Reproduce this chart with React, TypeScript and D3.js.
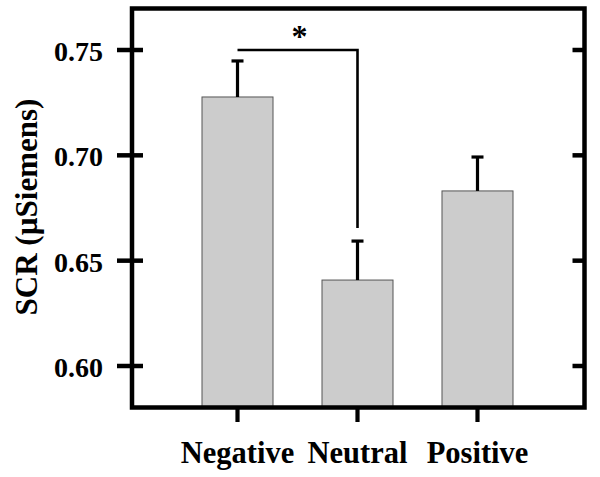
import React from "react";
import * as d3 from "d3";

const categories = ["Negative", "Neutral", "Positive"];
const means = [0.7277, 0.6408, 0.6831];
const errors = [0.0171, 0.0185, 0.0161];
const yTicks = [0.6, 0.65, 0.7, 0.75];
const yTickLabels = ["0.60", "0.65", "0.70", "0.75"];
const yTitle = "SCR (\u00b5Siemens)";
const sigPair = ["Negative", "Neutral"];
const sigLevel = 0.75;
const sigLabel = "*";

const W = 600;
const H = 477;
const left = 132;
const right = 584.5;
const top = 8.5;
const bottom = 407.5;
const FONT = "'Liberation Serif', 'Times New Roman', serif";

export default function App() {
  const y = d3.scaleLinear().domain([0.5803, 0.7697]).range([bottom, top]);
  const x = d3
    .scaleBand<string>()
    .domain(categories)
    .range([177.5, 537.5])
    .paddingInner(0.4083)
    .paddingOuter(0.2042);
  const bw = x.bandwidth();
  const cx = (c: string) => (x(c) as number) + bw / 2;

  const sx1 = cx(sigPair[0]);
  const sx2 = cx(sigPair[1]);
  const sIdx2 = categories.indexOf(sigPair[1]);

  return (
    <svg
      width={W}
      height={H}
      style={{ position: "absolute", left: 0, top: 0, background: "#fff" }}
      fontFamily={FONT}
    >
      {/* bars */}
      {categories.map((c, i) => (
        <rect
          key={c}
          x={x(c)}
          y={y(means[i])}
          width={bw}
          height={bottom - y(means[i])}
          fill="#cccccc"
          stroke="#555555"
          strokeWidth={1}
        />
      ))}
      {/* error bars */}
      {categories.map((c, i) => (
        <g key={"e" + c} stroke="#000" strokeWidth={3.2}>
          <line x1={cx(c)} x2={cx(c)} y1={y(means[i])} y2={y(means[i] + errors[i])} />
          <line
            x1={cx(c) - 6}
            x2={cx(c) + 6}
            y1={y(means[i] + errors[i])}
            y2={y(means[i] + errors[i])}
          />
        </g>
      ))}
      {/* significance bracket */}
      <path
        d={`M${sx1},${y(sigLevel)} H${sx2} V${y(means[sIdx2] + errors[sIdx2]) - 13}`}
        fill="none"
        stroke="#000"
        strokeWidth={2.6}
      />
      <text
        x={(sx1 + sx2) / 2 + 2}
        y={y(sigLevel) - 3}
        textAnchor="middle"
        fontSize={32}
        fontWeight="bold"
      >
        {sigLabel}
      </text>
      {/* frame */}
      <rect
        x={left}
        y={top}
        width={right - left}
        height={bottom - top}
        fill="none"
        stroke="#000"
        strokeWidth={4.5}
      />
      {/* y ticks */}
      {yTicks.map((t, i) => (
        <g key={"yt" + t}>
          <line x1={117} x2={143} y1={y(t)} y2={y(t)} stroke="#000" strokeWidth={4.5} />
          <line x1={right - 12} x2={right} y1={y(t)} y2={y(t)} stroke="#000" strokeWidth={4.5} />
          <text
            x={103}
            y={y(t) + 11}
            textAnchor="end"
            fontSize={28}
            fontWeight="bold"
          >
            {yTickLabels[i]}
          </text>
        </g>
      ))}
      {/* x ticks */}
      {categories.map((c) => (
        <g key={"xt" + c}>
          <line x1={cx(c)} x2={cx(c)} y1={bottom} y2={bottom + 14.5} stroke="#000" strokeWidth={4.2} />
          <text
            x={cx(c)}
            y={463}
            textAnchor="middle"
            fontSize={30.5}
            fontWeight="bold"
          >
            {c}
          </text>
        </g>
      ))}
      {/* y title */}
      <text
        transform={`translate(37,207) rotate(-90)`}
        textAnchor="middle"
        fontSize={31}
        fontWeight="bold"
      >
        {yTitle}
      </text>
    </svg>
  );
}
